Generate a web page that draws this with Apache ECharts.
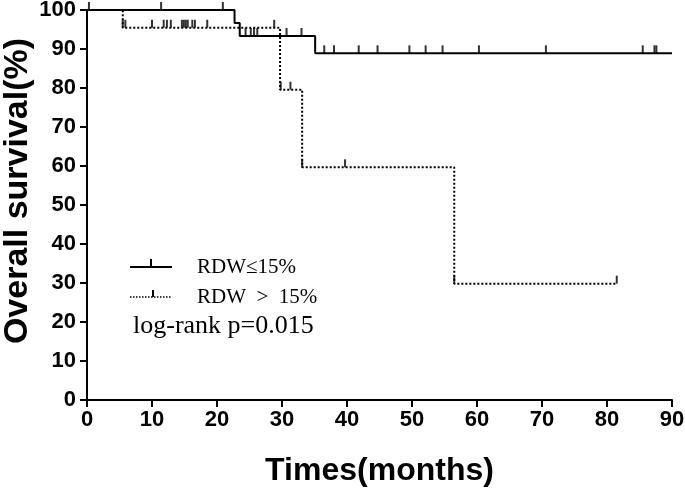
<!DOCTYPE html>
<html><head><meta charset="utf-8">
<script src="https://cdn.jsdelivr.net/npm/echarts@6/dist/echarts.min.js"></script>
<style>html,body{margin:0;padding:0;background:#fff}#c{width:685px;height:491px}</style>
</head><body><div id="c"></div>
<script>
// Kaplan-Meier step data
var lowTimes = [0, 22.7, 23.5, 35.1, 90];
var lowSurv  = [100, 96.67, 93.33, 88.89, 88.89];
var highTimes = [0, 5.5, 29.7, 33.1, 56.5, 81.5];
var highSurv  = [100, 95.45, 79.55, 59.66, 29.83, 29.83];
// censored observations
var lowCensorTimes = [0.3, 11.4, 20.9, 24.4, 25.2, 25.7, 26.2, 30.7, 33.0, 36.5, 38.0, 41.8, 44.7, 49.6, 52.1, 54.7, 60.3, 70.6, 85.5, 87.3, 87.6];
var lowCensorSurv  = [100, 100, 100, 93.33, 93.33, 93.33, 93.33, 93.33, 93.33, 88.89, 88.89, 88.89, 88.89, 88.89, 88.89, 88.89, 88.89, 88.89, 88.89, 88.89, 88.89];
var highCensorTimes = [5.5, 5.9, 10.0, 11.8, 12.3, 12.9, 14.6, 14.9, 15.2, 15.5, 16.2, 16.6, 18.5, 28.8, 29.8, 31.3, 33.1, 39.7, 56.5, 81.5];
var highCensorSurv  = [95.45, 95.45, 95.45, 95.45, 95.45, 95.45, 95.45, 95.45, 95.45, 95.45, 95.45, 95.45, 95.45, 95.45, 79.55, 79.55, 59.66, 59.66, 29.83, 29.83];
var xTicks = [0, 10, 20, 30, 40, 50, 60, 70, 80, 90];
var yTicks = [0, 10, 20, 30, 40, 50, 60, 70, 80, 90, 100];
var legendNames = ['RDW\u226415%', 'RDW\u2002>\u200215%'];
var pText = 'log-rank p=0.015';

function zip(a, b) { return a.map(function (v, i) { return [v, b[i]]; }); }

var sansB = "'Liberation Sans Narrow','Liberation Sans',Arial,sans-serif";
var serif = "'Liberation Serif','Times New Roman',serif";

var chart = echarts.init(document.getElementById('c'), null, {renderer: 'canvas'});
chart.setOption({
  animation: false,
  backgroundColor: '#fff',
  grid: {left: 87, right: 13, top: 10, bottom: 91, containLabel: false, outerBoundsMode: 'none'},
  xAxis: {
    type: 'value', min: xTicks[0], max: xTicks[xTicks.length - 1], interval: 10,
    name: 'Times(months)', nameLocation: 'middle', nameGap: 55, nameMoveOverlap: false,
    nameTextStyle: {fontFamily: sansB, fontWeight: 'bold', fontSize: 32, color: '#000'},
    axisLine: {lineStyle: {color: '#000', width: 2}},
    axisTick: {show: true, inside: false, length: 7, lineStyle: {color: '#000', width: 2}},
    axisLabel: {fontFamily: sansB, fontWeight: 'bold', fontSize: 22, color: '#000', margin: 9},
    splitLine: {show: false}
  },
  yAxis: {
    type: 'value', min: yTicks[0], max: yTicks[yTicks.length - 1], interval: 10,
    name: 'Overall survival(%)', nameLocation: 'middle', nameGap: 52, nameMoveOverlap: false,
    nameTextStyle: {fontFamily: sansB, fontWeight: 'bold', fontSize: 34, color: '#000', padding: [0, 0, 0, 28]},
    axisLine: {show: true, lineStyle: {color: '#000', width: 2}},
    axisTick: {show: true, inside: false, length: 7, lineStyle: {color: '#000', width: 2}},
    axisLabel: {fontFamily: sansB, fontWeight: 'bold', fontSize: 22, color: '#000', margin: 11},
    splitLine: {show: false}
  },
  series: [
    {type: 'line', step: 'end', data: zip(lowTimes, lowSurv), symbol: 'none',
     lineStyle: {color: '#000', width: 2}, z: 3},
    {type: 'line', step: 'end', data: zip(highTimes, highSurv), symbol: 'none',
     lineStyle: {color: '#000', width: 2, type: [2, 2]}, z: 3},
    {type: 'scatter', data: zip(lowCensorTimes, lowCensorSurv), symbol: 'rect',
     symbolSize: [2, 8], symbolOffset: [0, -4], itemStyle: {color: '#000'}, z: 4},
    {type: 'scatter', data: zip(highCensorTimes, highCensorSurv), symbol: 'rect',
     symbolSize: [2, 8], symbolOffset: [0, -4], itemStyle: {color: '#000'}, z: 4}
  ],
  graphic: [
    {type: 'line', shape: {x1: 130, y1: 267, x2: 172, y2: 267}, style: {stroke: '#000', lineWidth: 2}},
    {type: 'line', shape: {x1: 151, y1: 259, x2: 151, y2: 267}, style: {stroke: '#000', lineWidth: 2}},
    {type: 'text', left: 197, top: 257, style: {text: legendNames[0], font: '21px ' + serif, fill: '#000'}},
    {type: 'line', shape: {x1: 130, y1: 297, x2: 172, y2: 297}, style: {stroke: '#000', lineWidth: 1.5, lineDash: [1.5, 1.5]}},
    {type: 'line', shape: {x1: 153, y1: 290, x2: 153, y2: 297}, style: {stroke: '#000', lineWidth: 2}},
    {type: 'text', left: 197, top: 287, style: {text: legendNames[1], font: '21px ' + serif, fill: '#000'}},
    {type: 'text', left: 133, top: 313, style: {text: pText, font: '26px ' + serif, fill: '#000'}}
  ]
});
</script></body></html>
